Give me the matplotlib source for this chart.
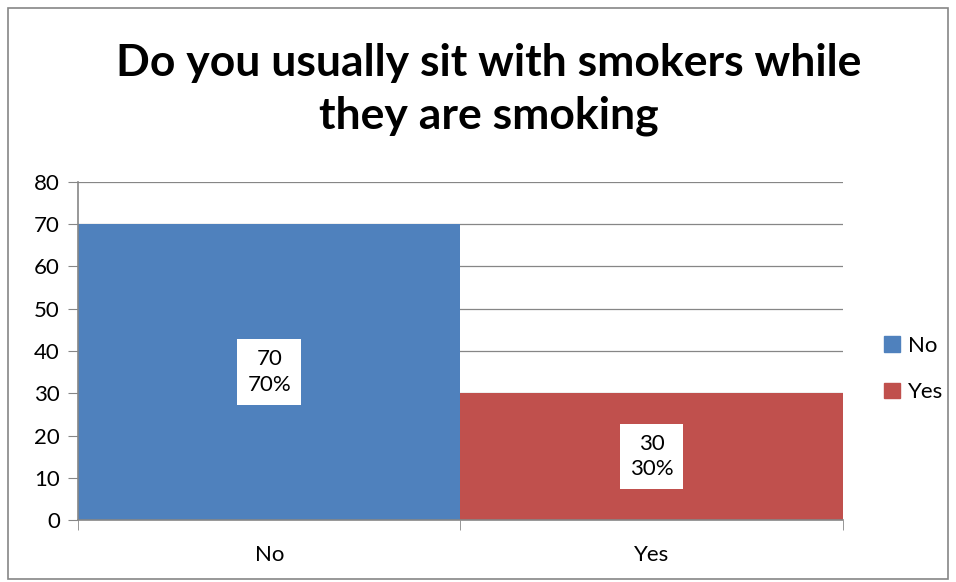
import matplotlib
matplotlib.use("Agg")
import matplotlib.pyplot as plt
from matplotlib.patches import Rectangle, Patch

categories = ["No", "Yes"]
counts = [70, 30]
percents = ["70%", "30%"]
colors = ["#4F81BD", "#C0504D"]
yticks = [0, 10, 20, 30, 40, 50, 60, 70, 80]

plt.rcParams["font.family"] = ["Lato", "DejaVu Sans"]

fig = plt.figure(figsize=(9.56, 5.82), dpi=100)
ax = fig.add_axes([0.0816, 0.1065, 0.8, 0.5808])

x = list(range(len(categories)))
ax.bar(x, counts, width=1.0, color=colors, zorder=2)
for xi, c, p in zip(x, counts, percents):
    ax.text(xi, c / 2, f"{c}\n{p}", ha="center", va="center", fontsize=16,
            linespacing=1.35, zorder=3,
            bbox=dict(boxstyle="square,pad=0.45", fc="white", ec="none"))

ax.set_xlim(-0.5, len(categories) - 0.5)
ax.set_ylim(0, 80)
ax.set_yticks(yticks)
ax.tick_params(axis="y", labelsize=16, length=7, color="#868686", pad=6)
ax.set_xticks(x)
ax.set_xticklabels(categories, fontsize=16)
ax.tick_params(axis="x", length=0, pad=18)
ax.set_xticks([-0.5, 0.5, 1.5], minor=True)
ax.tick_params(axis="x", which="minor", length=7, color="#868686")
ax.grid(axis="y", color="#868686", lw=0.9, zorder=1)
for s in ["top", "right"]:
    ax.spines[s].set_visible(False)
for s in ["left", "bottom"]:
    ax.spines[s].set_color("#868686")
    ax.spines[s].set_linewidth(1.2)

fig.text(0.511, 0.846, "Do you usually sit with smokers while\nthey are smoking",
         ha="center", va="center", fontsize=32, fontweight="bold", linespacing=1.36)

handles = [Patch(color=c) for c in colors]
fig.legend(handles, categories, loc="center left", bbox_to_anchor=(0.904, 0.366),
           frameon=False, fontsize=16, handlelength=0.7, handleheight=0.7,
           handletextpad=0.35, labelspacing=1.2)

fig.patches.append(Rectangle((0.008, 0.006), 0.984, 0.98, transform=fig.transFigure,
                             fill=False, ec="#868686", lw=1.2))

fig.savefig("out.png", dpi=100)
